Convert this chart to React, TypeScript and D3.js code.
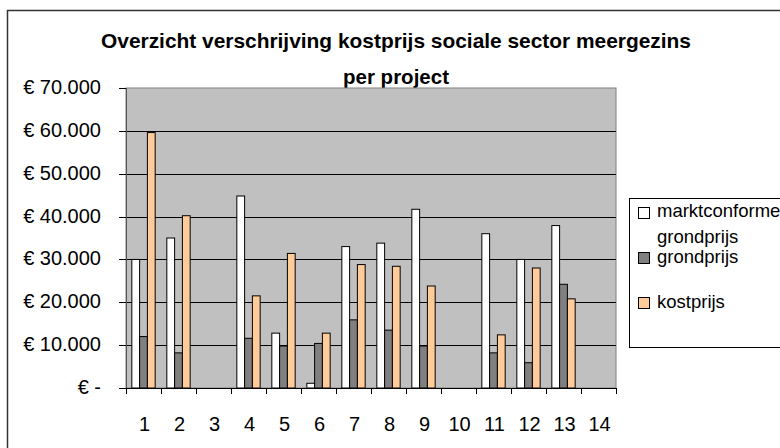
import { useEffect, useRef } from 'react';
import * as d3 from 'd3';

const projects = ['1', '2', '3', '4', '5', '6', '7', '8', '9', '10', '11', '12', '13', '14'];
const seriesNames = ['marktconforme grondprijs', 'grondprijs', 'kostprijs'];
const seriesColors = ['#FFFFFF', '#808080', '#FFCC99'];

// values per project, null = no bar
const marktconforme = [30000, 35000, null, 44800, 12800, 1100, 33000, 33800, 41700, null, 36000, 30000, 37900, null];
const grondprijs = [12000, 8200, null, 11600, 9800, 10400, 15900, 13500, 9800, null, 8200, 5900, 24200, null];
const kostprijs = [59600, 40200, null, 21500, 31400, 12800, 28800, 28400, 23800, null, 12400, 28000, 20800, null];

const yTicks = [0, 10000, 20000, 30000, 40000, 50000, 60000, 70000];

const W = 780;
const H = 448;
const FONT = '"Liberation Sans", Arial, sans-serif';

const fmtEuro = (v: number) => {
  if (v === 0) return '€ -';
  return '€ ' + d3.format(',')(v).replace(/,/g, '.');
};

const App = () => {
  const svgRef = useRef<SVGSVGElement>(null);

  useEffect(() => {
    const svg = d3.select(svgRef.current);
    svg.selectAll('*').remove();

    const plot = { left: 126, right: 616, top: 88, bottom: 388 };

    // outer chart frame (runs off the right/bottom edge)
    svg.append('rect')
      .attr('x', 7.5).attr('y', 10.5)
      .attr('width', 820).attr('height', 500)
      .attr('fill', '#fff')
      .attr('stroke', '#333').attr('stroke-width', 1.5);

    // title, centred on the chart frame
    const title = svg.append('text')
      .attr('font-family', FONT)
      .attr('font-weight', 'bold')
      .attr('font-size', 20.5)
      .attr('text-anchor', 'middle')
      .attr('fill', '#000');
    title.append('tspan').attr('x', 396).attr('y', 47.5)
      .attr('textLength', 590).attr('lengthAdjust', 'spacingAndGlyphs')
      .text('Overzicht verschrijving kostprijs sociale sector meergezins');
    title.append('tspan').attr('x', 396).attr('y', 83.5)
      .text('per project');

    const x0 = d3.scaleBand<string>()
      .domain(projects)
      .range([plot.left, plot.right])
      .padding(0);

    const x1 = d3.scaleBand<string>()
      .domain(seriesNames)
      .range([0, x0.bandwidth()])
      .paddingInner(0)
      .paddingOuter(0.75);

    const y = d3.scaleLinear()
      .domain([0, 70000])
      .range([plot.bottom, plot.top]);

    // plot area
    svg.append('rect')
      .attr('x', plot.left).attr('y', plot.top)
      .attr('width', plot.right - plot.left)
      .attr('height', plot.bottom - plot.top)
      .attr('fill', '#C0C0C0')
      .attr('stroke', '#808080').attr('stroke-width', 1);

    // gridlines
    svg.append('g')
      .selectAll('line')
      .data(yTicks.filter(t => t > 0 && t < 70000))
      .enter()
      .append('line')
      .attr('x1', plot.left).attr('x2', plot.right)
      .attr('y1', d => Math.round(y(d)) + 0.5)
      .attr('y2', d => Math.round(y(d)) + 0.5)
      .attr('stroke', '#000').attr('stroke-width', 1);

    // bars
    const allSeries = [marktconforme, grondprijs, kostprijs];
    const barData: { p: string; s: string; v: number; c: string }[] = [];
    allSeries.forEach((vals, si) => {
      vals.forEach((v, pi) => {
        if (v == null) return;
        barData.push({ p: projects[pi], s: seriesNames[si], v, c: seriesColors[si] });
      });
    });

    svg.append('g')
      .selectAll('rect')
      .data(barData)
      .enter()
      .append('rect')
      .attr('x', d => (x0(d.p) ?? 0) + (x1(d.s) ?? 0))
      .attr('y', d => y(d.v))
      .attr('width', x1.bandwidth())
      .attr('height', d => y(0) - y(d.v))
      .attr('fill', d => d.c)
      .attr('stroke', '#000')
      .attr('stroke-width', 1);

    // y axis
    const yAxis = svg.append('g');
    yAxis.append('line')
      .attr('x1', plot.left + 0.5).attr('x2', plot.left + 0.5)
      .attr('y1', plot.top).attr('y2', plot.bottom)
      .attr('stroke', '#555');
    yAxis.selectAll('.tick')
      .data(yTicks)
      .enter()
      .append('line')
      .attr('x1', plot.left - 7).attr('x2', plot.left)
      .attr('y1', d => Math.round(y(d)) + 0.5)
      .attr('y2', d => Math.round(y(d)) + 0.5)
      .attr('stroke', '#000');
    yAxis.selectAll('.lbl')
      .data(yTicks)
      .enter()
      .append('text')
      .attr('x', 101)
      .attr('y', d => y(d) + 6)
      .attr('text-anchor', 'end')
      .attr('font-family', FONT)
      .attr('font-size', 20)
      .attr('fill', '#000')
      .text(d => fmtEuro(d));

    // x axis
    const xAxis = svg.append('g');
    xAxis.append('line')
      .attr('x1', plot.left).attr('x2', plot.right)
      .attr('y1', plot.bottom + 0.5).attr('y2', plot.bottom + 0.5)
      .attr('stroke', '#000');
    const boundaries = projects.map(p => x0(p) ?? 0).concat([plot.right]);
    xAxis.selectAll('.tick')
      .data(boundaries)
      .enter()
      .append('line')
      .attr('x1', d => Math.round(d) + 0.5).attr('x2', d => Math.round(d) + 0.5)
      .attr('y1', plot.bottom).attr('y2', plot.bottom + 6)
      .attr('stroke', '#000');
    xAxis.selectAll('.lbl')
      .data(projects)
      .enter()
      .append('text')
      .attr('x', d => (x0(d) ?? 0) + x0.bandwidth() / 2 + 1)
      .attr('y', 430.5)
      .attr('text-anchor', 'middle')
      .attr('font-family', FONT)
      .attr('font-size', 20)
      .attr('fill', '#000')
      .text(d => d);

    // legend
    const legend = svg.append('g');
    legend.append('rect')
      .attr('x', 629.5).attr('y', 198.5)
      .attr('width', 200).attr('height', 149)
      .attr('fill', '#fff')
      .attr('stroke', '#000').attr('stroke-width', 1);

    const legendRows = [
      { sq: 207, lines: [{ t: 'marktconforme', y: 217 }, { t: 'grondprijs', y: 243 }] },
      { sq: 252, lines: [{ t: 'grondprijs', y: 262.5 }] },
      { sq: 297, lines: [{ t: 'kostprijs', y: 307.5 }] },
    ];
    legendRows.forEach((row, i) => {
      legend.append('rect')
        .attr('x', 638.5).attr('y', row.sq + 0.5)
        .attr('width', 11).attr('height', 11)
        .attr('fill', seriesColors[i])
        .attr('stroke', '#000').attr('stroke-width', 1);
      row.lines.forEach(l => {
        legend.append('text')
          .attr('x', 657)
          .attr('y', l.y)
          .attr('font-family', FONT)
          .attr('font-size', 18.5)
          .attr('fill', '#000')
          .text(l.t);
      });
    });
  }, []);

  return (
    <svg
      ref={svgRef}
      width={W}
      height={H}
      style={{ position: 'absolute', left: 0, top: 0, background: '#fff' }}
    />
  );
};

export default App;
